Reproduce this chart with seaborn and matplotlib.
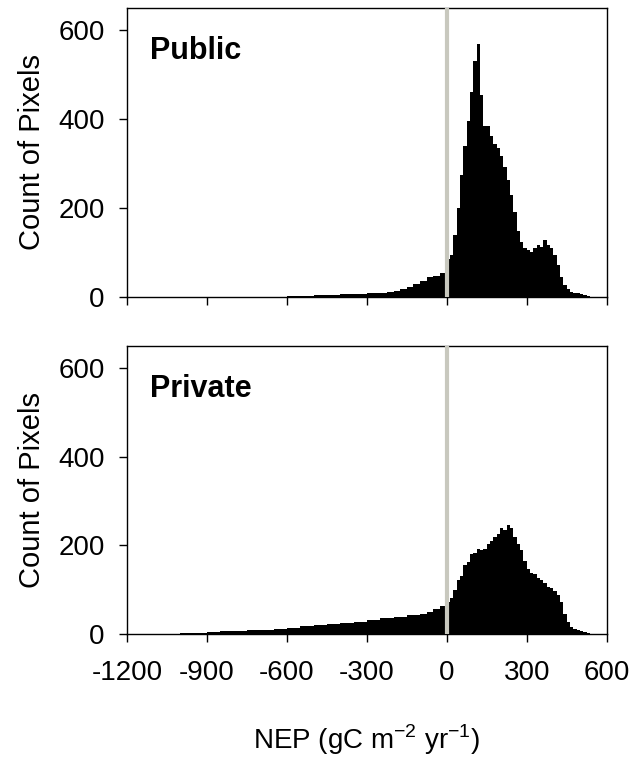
import numpy as np
import pandas as pd
import matplotlib
matplotlib.use("Agg")
import matplotlib.pyplot as plt
import seaborn as sns

# Histogram bins (NEP, gC m-2 yr-1) and pixel counts.
# Tails use wider bins, the main body uses 12.5-wide bins.
public_edges = [-750, -700, -650, -600, -550, -500, -450, -400, -350, -300,
                -250, -225, -200, -175, -150, -125, -100, -75, -50, -25,
                0, 12.5, 25, 37.5, 50, 62.5, 75, 87.5, 100, 112.5, 125,
                137.5, 150, 162.5, 175, 187.5, 200, 212.5, 225, 237.5, 250,
                262.5, 275, 287.5, 300, 312.5, 325, 337.5, 350, 362.5, 375,
                387.5, 400, 412.5, 425, 437.5, 450, 462.5, 475, 487.5, 500,
                512.5, 525, 537.5]
public_counts = [1, 1, 1, 2, 3, 4, 5, 6, 7, 9,
                 10, 12, 14, 17, 22, 29, 37, 44, 48, 53,
                 85, 95, 140, 200, 275, 340, 395, 460, 530, 570,
                 455, 385, 385, 362, 345, 335, 318, 292, 264, 230,
                 192, 148, 124, 110, 106, 101, 110, 116, 112, 128,
                 118, 110, 94, 72, 46, 28, 17, 11, 9, 8,
                 6, 4, 2]

private_edges = [-1150, -1100, -1050, -1000, -950, -900, -850, -800, -750,
                 -700, -650, -600, -550, -500, -450, -400, -350, -300, -250,
                 -200, -150, -100, -75, -50, -25,
                 0, 12.5, 25, 37.5, 50, 62.5, 75, 87.5, 100, 112.5, 125,
                 137.5, 150, 162.5, 175, 187.5, 200, 212.5, 225, 237.5, 250,
                 262.5, 275, 287.5, 300, 312.5, 325, 337.5, 350, 362.5, 375,
                 387.5, 400, 412.5, 425, 437.5, 450, 462.5, 475, 487.5, 500,
                 512.5, 525, 537.5]
private_counts = [1, 1, 1, 2, 2, 4, 6, 7, 8, 9, 11, 14, 18, 20, 22, 25, 28,
                  31, 35, 38, 42, 46, 50, 56, 63,
                  72, 82, 100, 122, 130, 155, 162, 180, 182, 191,
                  189, 192, 202, 210, 220, 226, 240, 235, 245, 240,
                  218, 204, 190, 165, 146, 137, 135, 126, 121, 114,
                  107, 103, 96, 88, 72, 46, 26, 16, 11, 9,
                  6, 4, 2]

x_ticks = [-1200, -900, -600, -300, 0, 300, 600]
y_ticks = [0, 200, 400, 600]
panel_names = ["Public", "Private"]

sns.set_style("ticks")
plt.rcParams["font.family"] = ["Liberation Sans", "DejaVu Sans"]
plt.rcParams["mathtext.fontset"] = "custom"
plt.rcParams["mathtext.rm"] = "Liberation Sans"
plt.rcParams["axes.unicode_minus"] = False
for key in ["text.color", "axes.labelcolor", "xtick.color", "ytick.color"]:
    plt.rcParams[key] = "black"

fig = plt.figure(figsize=(6.38, 7.57), dpi=100)
ax1 = fig.add_axes([0.199, 0.6077, 0.752, 0.3817])
ax2 = fig.add_axes([0.199, 0.1625, 0.752, 0.3804])

panels = [(ax1, public_edges, public_counts), (ax2, private_edges, private_counts)]
for i, (ax, edges, counts) in enumerate(panels):
    e = np.array(edges, dtype=float)
    df = pd.DataFrame({"nep": (e[:-1] + e[1:]) / 2, "count": counts})
    sns.histplot(data=df, x="nep", weights="count", bins=list(edges),
                 stat="count", element="step", fill=True, color="black",
                 alpha=1, linewidth=0, ax=ax)
    # grey marker line at NEP = 0
    ax.axvline(0, color="#c8c8be", lw=3, zorder=5)
    ax.set_xlim(-1200, 600)
    ax.set_ylim(0, 650)
    ax.set_xticks(x_ticks)
    ax.set_yticks(y_ticks)
    ax.tick_params(direction="out", length=6, width=1, labelsize=20)
    ax.tick_params(axis="x", pad=13)
    ax.tick_params(axis="y", pad=10)
    for s in ax.spines.values():
        s.set_linewidth(1)
        s.set_color("black")
    ax.set_ylabel("Count of Pixels", fontsize=21, labelpad=9)
    ax.set_xlabel("")
    ax.text(0.048, 0.823, panel_names[i], transform=ax.transAxes,
            fontsize=22, fontweight="bold", va="baseline", ha="left")

ax1.set_xticklabels([])
ax2.set_xlabel("NEP (gC m$^{-2}$ yr$^{-1}$)", fontsize=20, labelpad=26)

fig.savefig("out.png", dpi=100)
